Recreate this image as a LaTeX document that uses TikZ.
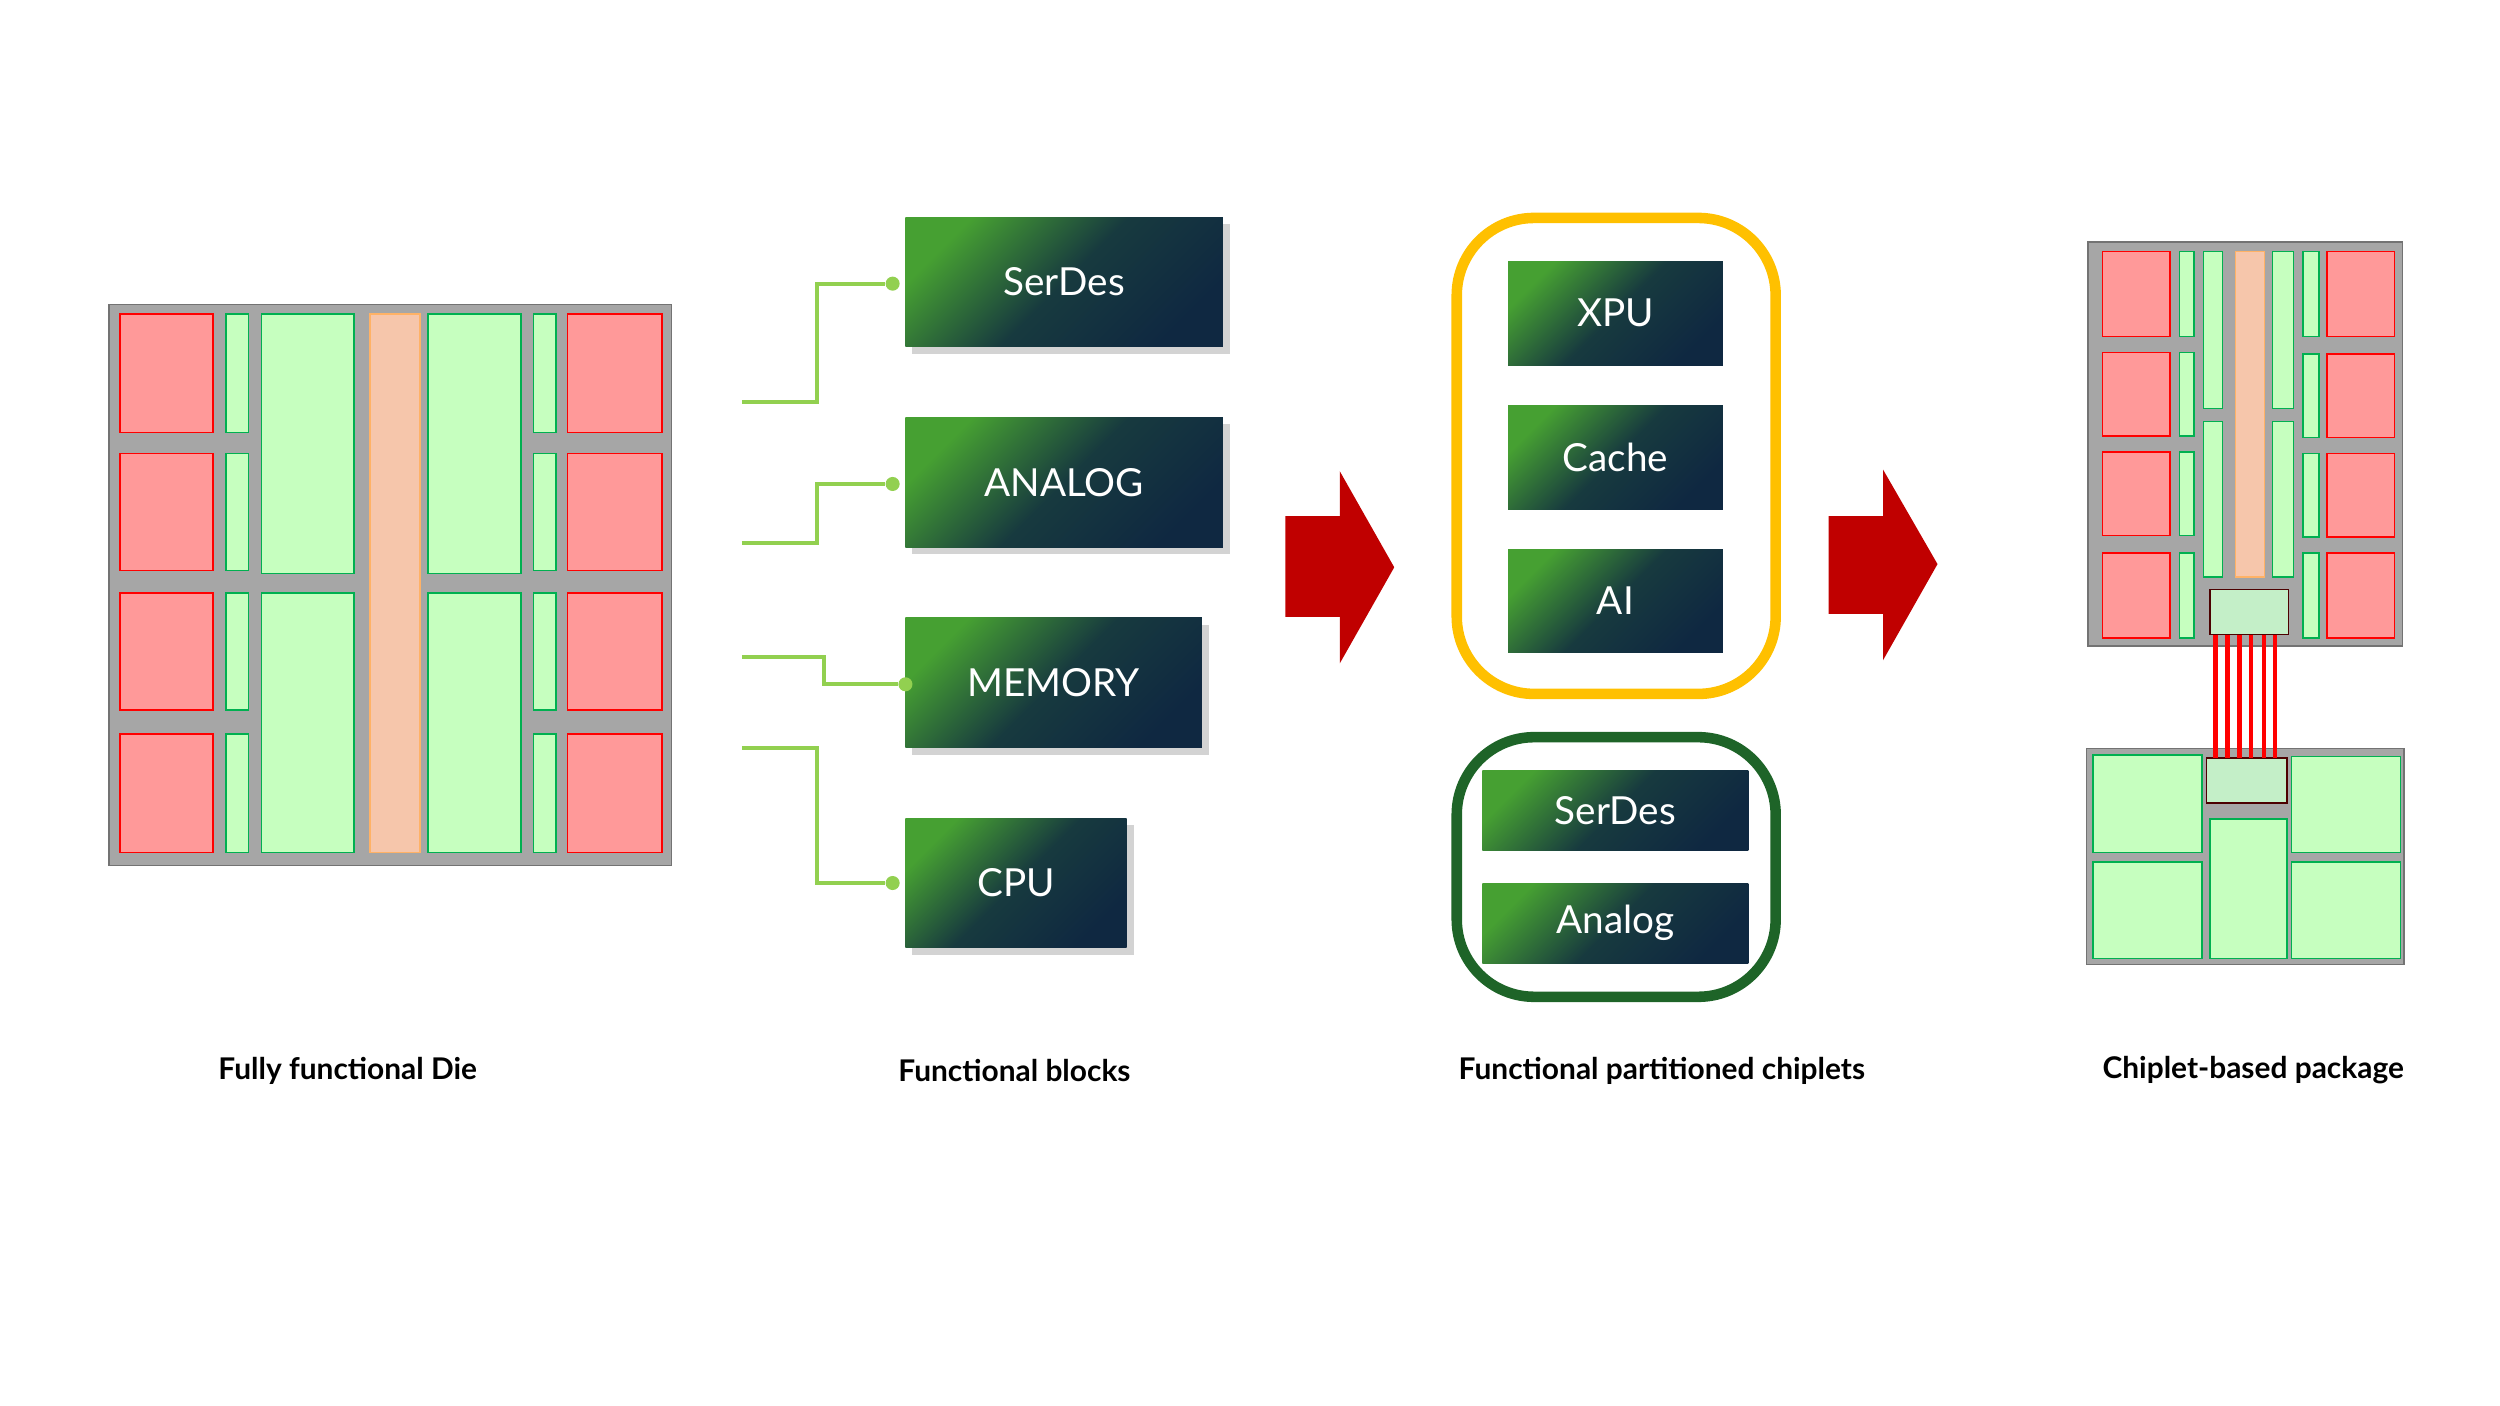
\documentclass[tikz,border=0pt]{standalone}
\usepackage{fontspec}
\setmainfont{Lato}
\usetikzlibrary{positioning,shadows}

\definecolor{padred}{RGB}{255,153,153}
\definecolor{padgreen}{RGB}{198,255,191}
\definecolor{padedge}{RGB}{0,176,80}
\definecolor{padorange}{RGB}{246,198,171}
\definecolor{dieGray}{RGB}{166,166,166}
\definecolor{blockgreen}{RGB}{70,160,50}
\definecolor{blocknavy}{RGB}{15,40,65}
\definecolor{linkgreen}{RGB}{146,208,80}
\definecolor{arrowred}{RGB}{192,0,0}
\definecolor{frameyellow}{RGB}{255,192,0}
\definecolor{framegreen}{RGB}{30,100,40}
\definecolor{bridgefill}{RGB}{196,239,200}

\def\u{0.016026cm}

\tikzset{
  die/.style={fill=dieGray, draw=gray!110},
  redpad/.style={fill=padred, draw=red, line width=0.4pt},
  greenpad/.style={fill=padgreen, draw=padedge, line width=0.4pt},
  orangepad/.style={fill=padorange, draw=orange!60},
  bridge/.style={fill=bridgefill, draw=black!70!red, line width=0.4pt},
  block/.style={text=white, font=\fontsize{11}{13}\selectfont,
    top color=blockgreen, bottom color=blocknavy, middle color=blocknavy!85!blockgreen,
    shading angle=45, inner sep=0pt},
  shadowblock/.style={block, drop shadow={shadow xshift=2pt, shadow yshift=-2pt, opacity=.35}},
  link/.style={draw=linkgreen, line width=1.1pt},
  dot/.style={circle, fill=linkgreen, inner sep=0pt, minimum size=4pt},
  caption/.style={font=\bfseries\fontsize{8.5}{10}\selectfont},
  bigarrow/.style={fill=arrowred}
}

\begin{document}
\begin{tikzpicture}[x=\u, y=-\u]
\useasboundingbox (0,0) rectangle (1560,877);

% fully functional die
\draw[die] (68,190) rectangle (419,540);
\foreach \ya/\yb in {196/270, 283/356, 370/443, 458/532} {
  \draw[redpad] (75,\ya) rectangle (133,\yb);
  \draw[greenpad] (141,\ya) rectangle (155,\yb);
  \draw[greenpad] (333,\ya) rectangle (347,\yb);
  \draw[redpad] (354,\ya) rectangle (413,\yb);
}
\foreach \ya/\yb in {196/358, 370/532} {
  \draw[greenpad] (163,\ya) rectangle (221,\yb);
  \draw[greenpad] (267,\ya) rectangle (325,\yb);
}
\draw[orangepad] (231,196) rectangle (262,532);

% functional blocks
\node[shadowblock, minimum width=198*\u, minimum height=81*\u] (serdes) at (664,176) {SerDes};
\node[shadowblock, minimum width=198*\u, minimum height=81*\u] (analog) at (664,301) {ANALOG};
\node[shadowblock, minimum width=185*\u, minimum height=81*\u] (memory) at (657.5,426) {MEMORY};
\node[shadowblock, minimum width=138*\u, minimum height=81*\u] (cpu) at (634,551) {CPU};

\coordinate (s0) at (463,251);
\coordinate (a0) at (463,339);
\coordinate (m0) at (463,410);
\coordinate (c0) at (463,467);
\node[dot] (sd) at (557,177) {};
\node[dot] (ad) at (557,302) {};
\node[dot] (md) at (565,427) {};
\node[dot] (cd) at (557,551) {};
\draw[link] (s0) -- (510,251) |- (sd);
\draw[link] (a0) -- (510,339) |- (ad);
\draw[link] (m0) -- (514,410) |- (md);
\draw[link] (c0) -- (510,467) |- (cd);

% arrows
\fill[bigarrow] (802,322) -- (836,322) -- (836,294) -- (870,354) -- (836,414) -- (836,385) -- (802,385) -- cycle;
\fill[bigarrow] (1141,322) -- (1175,322) -- (1175,293) -- (1209,352) -- (1175,412) -- (1175,383) -- (1141,383) -- cycle;

% partitioned chiplets
\draw[frameyellow, line width=3pt, rounded corners=22pt] (909,136) rectangle (1108,433);
\node[block, minimum width=134*\u, minimum height=65*\u] (xpu) at (1008,195.5) {XPU};
\node[block, minimum width=134*\u, minimum height=65*\u] (cache) at (1008,285.5) {Cache};
\node[block, minimum width=134*\u, minimum height=64*\u] (ai) at (1008,375) {AI};
\draw[framegreen, line width=3pt, rounded corners=22pt] (909,460) rectangle (1108,622);
\node[block, minimum width=166*\u, minimum height=50*\u] (serdes2) at (1008,506) {SerDes};
\node[block, minimum width=166*\u, minimum height=50*\u] (analog2) at (1008,576) {Analog};

% chiplet-based package
\draw[die] (1303,151) rectangle (1499,403);
\foreach \ya/\yb in {157/210, 220/272, 282/334, 345/398} {
  \draw[redpad] (1312,\ya) rectangle (1354,\yb);
  \draw[greenpad] (1360,\ya) rectangle (1369,\yb);
}
\foreach \ya/\yb in {157/210, 221/273, 283/335, 345/398} {
  \draw[greenpad] (1437,\ya) rectangle (1447,\yb);
  \draw[redpad] (1452,\ya) rectangle (1494,\yb);
}
\foreach \ya/\yb in {157/255, 263/360} {
  \draw[greenpad] (1375,\ya) rectangle (1387,\yb);
  \draw[greenpad] (1418,\ya) rectangle (1431,\yb);
}
\draw[orangepad] (1395,157) rectangle (1413,360);
\draw[bridge] (1379,368) rectangle (1428,396);

\draw[die] (1302,467) rectangle (1500,602);
\draw[greenpad] (1306,471) rectangle (1374,532);
\draw[greenpad] (1306,538) rectangle (1374,598);
\draw[greenpad] (1379,511) rectangle (1427,598);
\draw[greenpad] (1430,472) rectangle (1498,532);
\draw[greenpad] (1430,538) rectangle (1498,598);
\draw[bridge] (1377,473) rectangle (1427,501);
\foreach \x in {1382.5,1390,1397.5,1404.5,1412.5,1419.5}
  \draw[red, line width=1.2pt] (\x,396) -- (\x,473);

% captions
\node[caption] (cap1) at (217,668) {Fully functional Die};
\node[caption] (cap2) at (633,668) {Functional blocks};
\node[caption] (cap3) at (1037,668) {Functional partitioned chiplets};
\node[caption] (cap4) at (1406,668) {Chiplet-based package};
\end{tikzpicture}
\end{document}
